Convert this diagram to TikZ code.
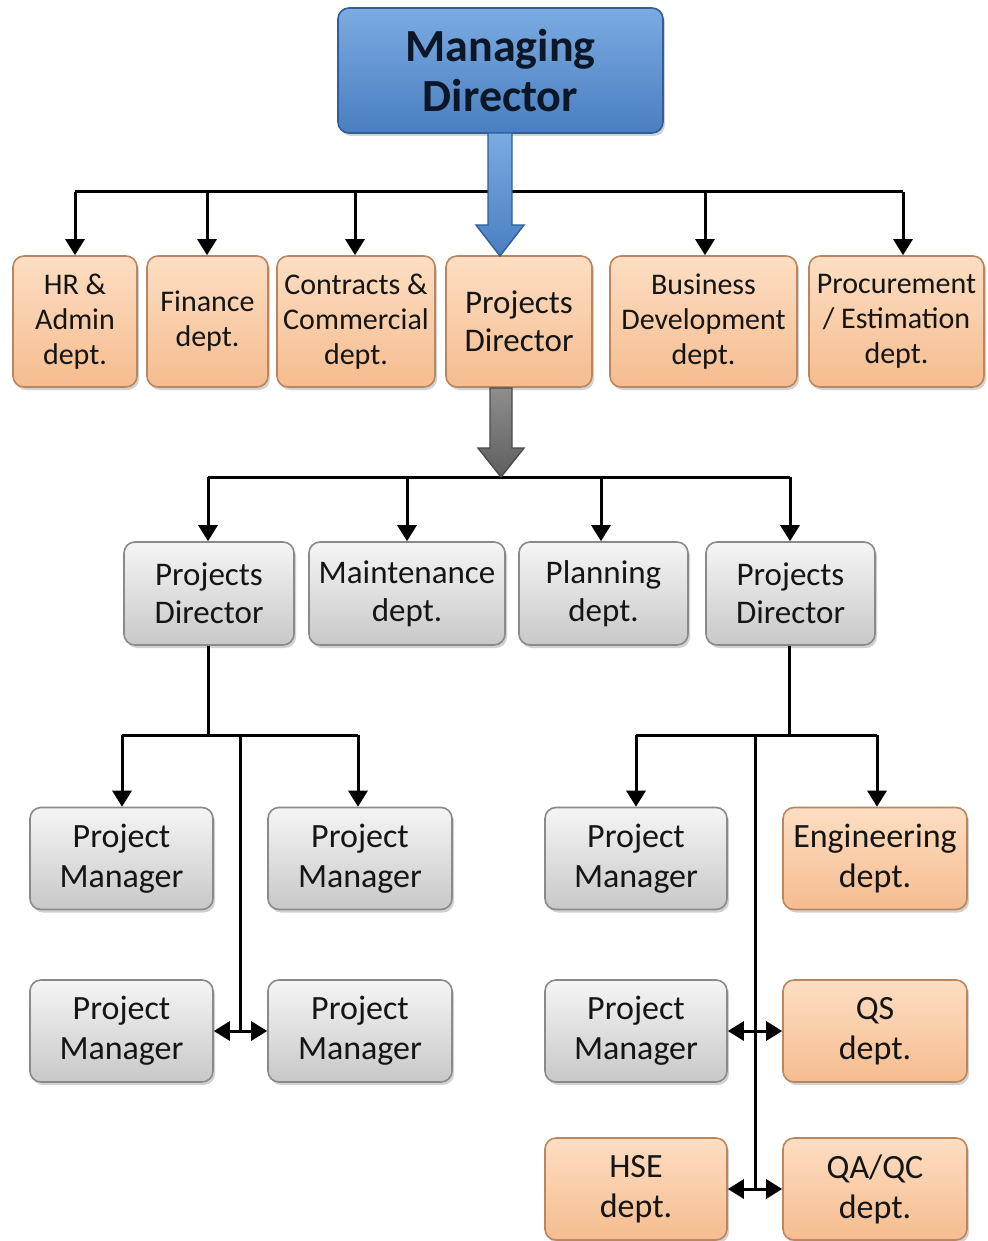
\documentclass[tikz,border=0pt]{standalone}
\usepackage{fontspec}
\setmainfont{Carlito}
\usetikzlibrary{arrows.meta,shadows,calc}
\definecolor{txt}{HTML}{151515}
\definecolor{mdtxt}{HTML}{0B1626}
\definecolor{otop}{HTML}{FDDEC3}
\definecolor{obot}{HTML}{F5BC8F}
\definecolor{oline}{HTML}{B98660}
\definecolor{gtop}{HTML}{F5F5F5}
\definecolor{gbot}{HTML}{C8C8C8}
\definecolor{gline}{HTML}{8A8A8A}
\definecolor{btop}{HTML}{7BABE2}
\definecolor{bbot}{HTML}{4A7EC0}
\definecolor{bline}{HTML}{2F5E98}
\definecolor{fgtop}{HTML}{8E8E8E}
\definecolor{fgbot}{HTML}{5E5E5E}
\tikzset{
  box/.style={rounded corners=11pt, line width=1.6pt, align=center, text=txt,
    inner sep=0pt, drop shadow={shadow xshift=2pt, shadow yshift=-3pt, opacity=0.35}},
  obox/.style={box, draw=oline, top color=otop, bottom color=obot},
  gbox/.style={box, draw=gline, top color=gtop, bottom color=gbot},
  mdbox/.style={box, draw=bline, top color=btop, bottom color=bbot, text=mdtxt},
  conn/.style={line width=3pt, draw=black, -{Triangle[length=16pt,width=19pt]}},
  dconn/.style={line width=3pt, draw=black, {Triangle[length=16pt,width=19pt]}-{Triangle[length=16pt,width=19pt]}},
  plain/.style={line width=3pt, draw=black},
  fsA/.style={font=\fontsize{30}{35}\selectfont},
  fsB/.style={font=\fontsize{33}{38}\selectfont},
  fsC/.style={font=\fontsize{34}{40}\selectfont},
}
\begin{document}
\begin{tikzpicture}[x=1pt,y=-1pt]
\useasboundingbox[fill=white] (0,0) rectangle (987,1241);

% Managing Director
\node[mdbox, minimum width=325pt, minimum height=125pt,
  font=\fontsize{46}{50}\selectfont\bfseries] (md) at (500.5,70.5) {Managing\\Director};

% Row 1
\node[obox, fsA, minimum width=124pt, minimum height=131pt] (hr) at (75,321.5) {HR \&\\Admin\\dept.};
\node[obox, fsA, minimum width=121pt, minimum height=131pt] (fin) at (207.5,321.5) {Finance\\dept.};
\node[obox, fsA, minimum width=158pt, minimum height=131pt] (con) at (356,321.5) {Contracts \&\\Commercial\\dept.};
\node[obox, fsB, minimum width=146pt, minimum height=131pt] (pd) at (519,321.5) {Projects\\Director};
\node[obox, fsA, minimum width=187pt, minimum height=131pt] (bd) at (703.5,321.5) {Business\\Development\\dept.};
\node[obox, fsA, minimum width=175pt, minimum height=131pt] (proc) at (896.5,321.5) {Procurement\\/ Estimation\\dept.};

% Row 2
\node[gbox, fsB, minimum width=170pt, minimum height=103pt] (pda) at (209,593.5) {Projects\\Director};
\node[gbox, fsB, minimum width=196pt, minimum height=103pt] (mnt) at (407,593.5) {Maintenance\\dept.};
\node[gbox, fsB, minimum width=169pt, minimum height=103pt] (pln) at (603.5,593.5) {Planning\\dept.};
\node[gbox, fsB, minimum width=169pt, minimum height=103pt] (pdb) at (790.5,593.5) {Projects\\Director};

% Left subtree
\node[gbox, fsC, minimum width=183pt, minimum height=102pt] (pm1) at (121.5,858.5) {Project\\Manager};
\node[gbox, fsC, minimum width=184pt, minimum height=102pt] (pm2) at (360,858.5) {Project\\Manager};
\node[gbox, fsC, minimum width=183pt, minimum height=102pt] (pm3) at (121.5,1031) {Project\\Manager};
\node[gbox, fsC, minimum width=184pt, minimum height=102pt] (pm4) at (360,1031) {Project\\Manager};

% Right subtree
\node[gbox, fsC, minimum width=182pt, minimum height=102pt] (pm5) at (636,858.5) {Project\\Manager};
\node[obox, fsC, minimum width=184pt, minimum height=102pt] (eng) at (875,858.5) {Engineering\\dept.};
\node[gbox, fsC, minimum width=182pt, minimum height=102pt] (pm6) at (636,1031) {Project\\Manager};
\node[obox, fsC, minimum width=184pt, minimum height=102pt] (qs) at (875,1031) {QS\\dept.};
\node[obox, fsC, minimum width=182pt, minimum height=102pt] (hse) at (636,1189) {HSE\\dept.};
\node[obox, fsC, minimum width=184pt, minimum height=102pt] (qa) at (875,1189) {QA/QC\\dept.};

% Top connectors
\coordinate (h1) at (75,192);
\coordinate (h2) at (207,192);
\coordinate (h3) at (355,192);
\coordinate (h4) at (705,192);
\coordinate (h5) at (903,192);
\draw[plain] (h1) -- (h5);
\draw[conn] (h1) -- (h1 |- hr.north);
\draw[conn] (h2) -- (h2 |- fin.north);
\draw[conn] (h3) -- (h3 |- con.north);
\draw[conn] (h4) -- (h4 |- bd.north);
\draw[conn] (h5) -- (h5 |- proc.north);

% Second level connectors
\coordinate (k1) at (208,477);
\coordinate (k2) at (407,477);
\coordinate (k3) at (601,477);
\coordinate (k4) at (790,477);
\draw[plain] (k1) -- (k4);
\draw[conn] (k1) -- (k1 |- pda.north);
\draw[conn] (k2) -- (k2 |- mnt.north);
\draw[conn] (k3) -- (k3 |- pln.north);
\draw[conn] (k4) -- (k4 |- pdb.north);

% Left subtree connectors
\coordinate (la) at (208,735);
\coordinate (l1) at (122,735);
\coordinate (l2) at (358,735);
\coordinate (lm) at (240,735);
\draw[plain] (pda.south -| la) -- (la);
\draw[plain] (l1) -- (l2);
\draw[conn] (l1) -- (l1 |- pm1.north);
\draw[conn] (l2) -- (l2 |- pm2.north);
\draw[plain] (lm) -- (lm |- pm3.east);
\draw[dconn] (pm3.east) -- (pm4.west);

% Right subtree connectors
\coordinate (ra) at (789,735);
\coordinate (r1) at (636,735);
\coordinate (r2) at (877,735);
\coordinate (rm) at (755,735);
\draw[plain] (pdb.south -| ra) -- (ra);
\draw[plain] (r1) -- (r2);
\draw[conn] (r1) -- (r1 |- pm5.north);
\draw[conn] (r2) -- (r2 |- eng.north);
\draw[plain] (rm) -- (rm |- hse.east);
\draw[dconn] (pm6.east) -- (qs.west);
\draw[dconn] (hse.east) -- (qa.west);

% Fat blue arrow MD -> Projects Director
\path[top color=btop, bottom color=bbot, draw=bline, line width=1.4pt, line join=miter]
  (488,133) -- (512,133) -- (512,225) -- (524,225) -- (500,256) -- (476,225) -- (488,225) -- cycle;
% Fat grey arrow Projects Director -> level 2
\path[top color=fgtop, bottom color=fgbot, draw=fgbot!80!black, line width=1.4pt, line join=miter]
  (490,388) -- (512,388) -- (512,448) -- (524,448) -- (501,477) -- (478,448) -- (490,448) -- cycle;
\end{tikzpicture}
\end{document}
